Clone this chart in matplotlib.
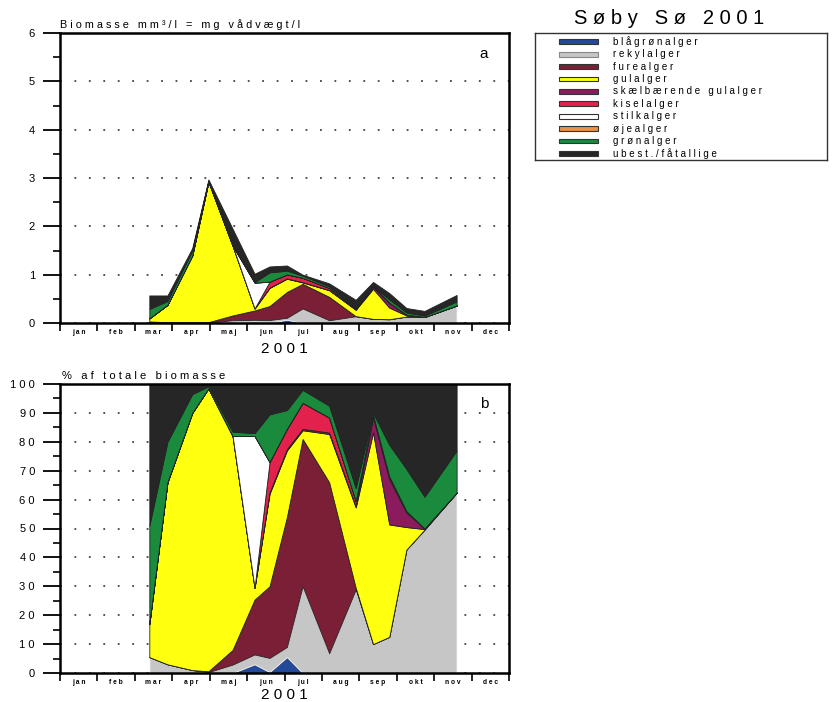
import numpy as np
import pandas as pd
import matplotlib.pyplot as plt
from matplotlib.patches import Rectangle
from matplotlib.ticker import MultipleLocator

plt.rcParams['font.family'] = ['Liberation Sans', 'DejaVu Sans']

# prøvetagningsdatoer
dates = ['2001-03-13', '2001-03-28', '2001-04-17', '2001-04-30', '2001-05-20',
         '2001-06-07', '2001-06-19', '2001-07-03', '2001-07-16', '2001-08-07',
         '2001-08-29', '2001-09-12', '2001-09-25', '2001-10-09', '2001-10-24',
         '2001-11-19']

# total biomasse, mg vådvægt/l
total = [0.57, 0.57, 1.55, 2.97, 1.95, 1.02, 1.17, 1.19, 1.00, 0.82,
         0.48, 0.85, 0.62, 0.31, 0.25, 0.58]

# andel af total biomasse (%)
blaagroen = [0, 0, 0, 0, 0, 3.0, 0.3, 5.5, 0, 0, 0, 0, 0, 0, 0, 0]
rekyl = [5.5, 3, 1, 0.3, 2.9, 3.4, 4.9, 3.5, 30, 6.8, 28.9, 10, 12.5, 42.7, 49.6, 62.4]
fure = [0, 0, 0, 0.3, 5.1, 19, 24.8, 45, 51, 59.2, 0.6, 0, 0, 0, 0, 0]
gul = [11.5, 63, 89, 97.9, 74, 4.1, 32, 23, 3, 16.7, 27.8, 73.3, 38.9, 7.8, 0.2, 0]
skael = [0, 0, 0, 0, 0, 0, 0.5, 0.5, 0.5, 0.5, 0.5, 5.2, 15.6, 5, 0.2, 0]
kisel = [0, 0, 0, 0, 0, 0, 10.5, 7, 9, 5.2, 1.7, 0.8, 1, 0.5, 0, 0]
stilk = [0, 0, 0, 0, 0, 52.5, 0, 0, 0, 0, 0, 0, 0, 0, 0, 0]
oeje = [0, 0, 0, 0, 0, 0, 0, 0, 0, 0, 0, 0, 0, 0, 0, 0]
groen = [34, 14, 6.5, 0.7, 1.5, 1, 16.5, 6.5, 4.5, 4.1, 4.5, 0.7, 11, 14.6, 11, 14.6]
ubest = [49, 20, 3.5, 0.8, 16.5, 17, 10.5, 9, 2, 7.5, 36, 10, 21, 29.4, 39, 23]

groups = ['blågrønalger', 'rekylalger', 'furealger', 'gulalger',
          'skælbærende gulalger', 'kiselalger', 'stilkalger', 'øjealger',
          'grønalger', 'ubest./fåtallige']
shares = [blaagroen, rekyl, fure, gul, skael, kisel, stilk, oeje, groen, ubest]
colors = ['#24489a', '#c6c6c6', '#7a1f35', '#ffff10', '#8c1b5e',
          '#e2224d', '#ffffff', '#ea9148', '#1a8a3c', '#262626']

months = ['jan', 'feb', 'mar', 'apr', 'maj', 'jun', 'jul', 'aug',
          'sep', 'okt', 'nov', 'dec']


def spaced(s):
    return '   '.join(' '.join(w) for w in s.split(' '))


d = pd.to_datetime(dates)
x = np.asarray((d.month - 1) + (d.day - 1) / d.days_in_month, dtype=float)
pct = np.array(shares, dtype=float)
biomass = pct / 100.0 * np.array(total)

W, H = 832, 702
fig = plt.figure(figsize=(W / 100, H / 100), dpi=100)
ax_a = fig.add_axes([60 / W, 1 - 323 / H, 449 / W, 290 / H])
ax_b = fig.add_axes([60 / W, 1 - 673 / H, 449 / W, 289 / H])


def style_axes(ax, ymax, ystep, yminor, ylabels, xlabel_pad):
    ax.set_xlim(0, 12)
    ax.set_ylim(0, ymax)
    ax.set_yticks(np.arange(0, ymax + ystep / 2, ystep))
    ax.set_yticklabels(ylabels, fontsize=8)
    ax.yaxis.set_minor_locator(MultipleLocator(yminor))
    ax.tick_params(axis='y', which='major', direction='out', length=12,
                   width=1.3, pad=6)
    ax.tick_params(axis='y', which='minor', direction='out', length=5,
                   width=1.2)
    ax.set_xticks(range(13))
    ax.set_xticklabels([])
    ax.set_xticks(np.arange(12) + 0.5, minor=True)
    ax.set_xticklabels([spaced(m) for m in months], minor=True, fontsize=4.8,
                       fontweight='bold')
    ax.tick_params(axis='x', which='major', direction='out', length=6, width=1.2)
    ax.tick_params(axis='x', which='minor', length=0, pad=4)
    ax.yaxis.grid(True, which='major', linestyle=(0, (1, 7)), color='#444444',
                  linewidth=1.3)
    ax.set_axisbelow(True)
    for sp in ax.spines.values():
        sp.set_linewidth(1.8)
        sp.set_zorder(5)
    ax.set_xlabel(spaced('2001'), fontsize=11, labelpad=xlabel_pad)


# a: biomasse
polys = ax_a.stackplot(x, *biomass, colors=colors, edgecolor='#222222',
                       linewidth=0.6)
polys[1].set_edgecolor('white')
style_axes(ax_a, 6, 1, 0.5, [str(v) for v in range(7)], 4)
ax_a.text(0, 1.012, spaced('Biomasse mm³/l = mg vådvægt/l'),
          transform=ax_a.transAxes, fontsize=7.8, ha='left', va='bottom')
ax_a.text(0.935, 0.95, 'a', transform=ax_a.transAxes, fontsize=11,
          ha='left', va='top')

# b: procent af total
polys = ax_b.stackplot(x, *pct, colors=colors, edgecolor='#222222',
                       linewidth=0.6)
polys[1].set_edgecolor('white')
style_axes(ax_b, 100, 10, 5, [spaced(str(v)) for v in range(0, 101, 10)], 1)
ax_b.text(0.005, 1.01, spaced('% af totale biomasse'),
          transform=ax_b.transAxes, fontsize=8, ha='left', va='bottom')
ax_b.text(0.935, 0.955, 'b', transform=ax_b.transAxes, fontsize=11,
          ha='left', va='top')

# signatur
fig.text(669 / W, 1 - 18 / H, spaced('Søby Sø 2001'), fontsize=14.5,
         ha='center', va='center')
ax_leg = fig.add_axes([535 / W, 1 - 160 / H, 292 / W, 127 / H])
ax_leg.set_xlim(535, 827)
ax_leg.set_ylim(160, 33)
ax_leg.set_xticks([])
ax_leg.set_yticks([])
for sp in ax_leg.spines.values():
    sp.set_linewidth(1.0)
    sp.set_color('#333333')
for i, (name, c) in enumerate(zip(groups, colors)):
    yy = 41.7 + i * 12.4
    ec = '#888888' if name == 'rekylalger' else '#333333'
    ax_leg.add_patch(Rectangle((559, yy - 2.4), 39, 4.8, facecolor=c,
                               edgecolor=ec, linewidth=0.8))
    ax_leg.text(613, yy, spaced(name), fontsize=7, ha='left', va='center')

fig.savefig('out.png', dpi=100)
